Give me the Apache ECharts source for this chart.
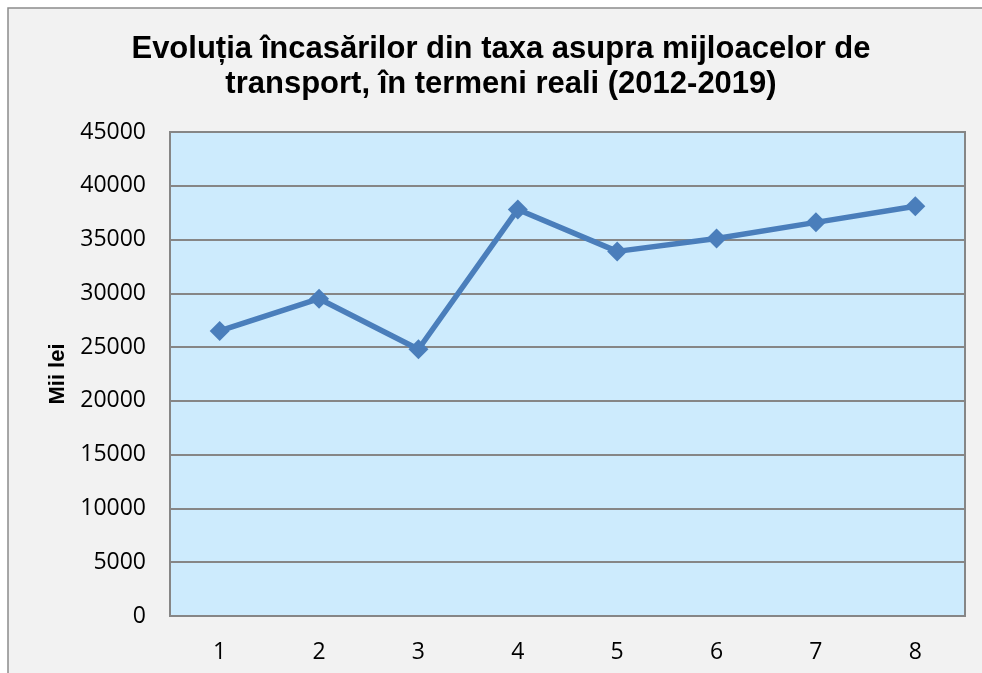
<!DOCTYPE html>
<html>
<head>
<meta charset="utf-8">
<script src="https://cdn.jsdelivr.net/npm/echarts@6/dist/echarts.min.js"></script>
<style>
  html, body { margin: 0; padding: 0; background: #fff; }
  #chart { width: 982px; height: 673px; }
</style>
</head>
<body>
<div id="chart"></div>
<script>
// date
const categories = ['1', '2', '3', '4', '5', '6', '7', '8'];
const incasari = [26500, 29500, 24800, 37800, 33900, 35100, 36600, 38100];
const yTicks = { min: 0, max: 45000, interval: 5000 };

const chart = echarts.init(document.getElementById('chart'));

const option = {
  backgroundColor: '#ffffff',
  graphic: [
    {
      type: 'rect',
      z: -10,
      shape: { x: 8, y: 8, width: 990, height: 700 },
      style: { fill: '#f2f2f2', stroke: '#8c8c8c', lineWidth: 1.5 }
    }
  ],
  title: {
    text: 'Evoluția încasărilor din taxa asupra mijloacelor de\ntransport, în termeni reali (2012-2019)',
    left: 496,
    textAlign: 'center',
    top: 27,
    textStyle: {
      fontFamily: 'Liberation Sans',
      fontWeight: 'bold',
      fontSize: 31,
      lineHeight: 35,
      color: '#000'
    }
  },
  grid: {
    left: 170,
    right: 17,
    top: 132,
    bottom: 57,
    show: true,
    backgroundColor: '#cdebfd',
    borderColor: '#868686',
    borderWidth: 2
  },
  xAxis: {
    type: 'category',
    data: categories,
    boundaryGap: true,
    axisLine: { show: false },
    axisTick: { show: false },
    axisLabel: {
      color: '#000',
      fontFamily: 'Open Sans',
      fontSize: 23,
      margin: 25
    }
  },
  yAxis: {
    type: 'value',
    min: yTicks.min,
    max: yTicks.max,
    interval: yTicks.interval,
    name: 'Mii lei',
    nameLocation: 'middle',
    nameGap: 101,
    nameTextStyle: {
      fontFamily: 'Liberation Sans',
      fontWeight: 'bold',
      fontSize: 22,
      color: '#000'
    },
    axisLine: { show: false },
    axisTick: { show: false },
    axisLabel: {
      color: '#000',
      fontFamily: 'Open Sans',
      fontSize: 23,
      margin: 24,
      formatter: v => String(v)
    },
    splitLine: {
      lineStyle: { color: '#868686', width: 2 }
    }
  },
  series: [
    {
      type: 'line',
      data: incasari,
      symbol: 'diamond',
      symbolSize: 20,
      showSymbol: true,
      lineStyle: { color: '#4a7ebb', width: 5.5 },
      itemStyle: { color: '#4a7ebb' },
      animation: false
    }
  ]
};

chart.setOption(option);
</script>
</body>
</html>
